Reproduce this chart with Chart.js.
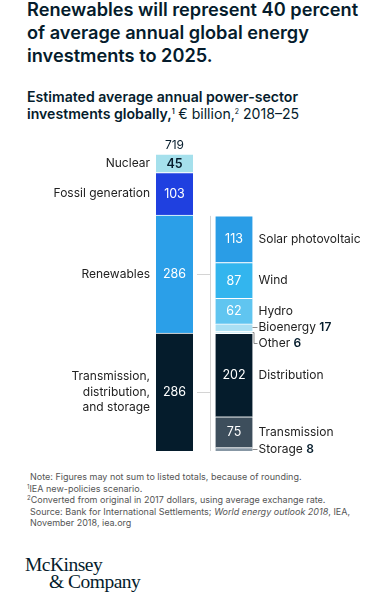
<!DOCTYPE html>
<html>
<head>
<meta charset="utf-8">
<script src="https://cdn.jsdelivr.net/npm/chart.js@4"></script>
<style>
body{margin:0;width:390px;height:594px;position:relative;background:#fff;font-family:Inter,"Liberation Sans",sans-serif;color:#051c2c;overflow:hidden}
#title{position:absolute;left:27px;top:-2px;font-size:18.2px;font-weight:600;line-height:23px}
#sub{position:absolute;left:27px;top:88px;font-size:14.1px;line-height:17px;font-weight:600}
#sub span{font-weight:400}
sup{font-size:7px;line-height:0;vertical-align:5px}
#wrap{position:absolute;left:0;top:130px;width:390px;height:340px}
#notes{position:absolute;left:27px;top:471px;font-size:9px;line-height:11.5px;color:#555}
#notes sup{font-size:6px;vertical-align:3px}
.ind{padding-left:3px}
#logo{position:absolute;left:25px;top:556px;font-family:"Liberation Serif",serif;font-size:19.5px;line-height:17px;color:#051c2c;letter-spacing:-0.5px}
</style>
</head>
<body>
<div id="title">Renewables will represent 40 percent<br>of average annual global energy<br>investments to 2025.</div>
<div id="sub">Estimated average annual power-sector<br>investments globally,<sup>1</sup> <span>€ billion,<sup>2</sup> 2018–25</span></div>
<div id="wrap"><canvas id="chart" width="390" height="340"></canvas></div>
<div id="notes">
<div class="ind">Note: Figures may not sum to listed totals, because of rounding.</div>
<div><sup>1</sup>IEA new-policies scenario.</div>
<div><sup>2</sup>Converted from original in 2017 dollars, using average exchange rate.</div>
<div class="ind">Source: Bank for International Settlements; <i>World energy outlook 2018</i>, IEA,</div>
<div class="ind">November 2018, iea.org</div>
</div>
<div id="logo">McKinsey<br><span style="padding-left:24px">&amp; Company</span></div>
<script>
// top-down order, as in the picture
const totalLabel = '719';
const sectorNames = ['Nuclear', 'Fossil generation', 'Renewables', 'Transmission,\ndistribution,\nand storage'];
const sectorValues = [45, 103, 286, 286];
const detailNames = ['Solar photovoltaic', 'Wind', 'Hydro', 'Bioenergy', 'Other', 'Distribution', 'Transmission', 'Storage'];
const detailValues = [113, 87, 62, 17, 6, 202, 75, 8];
const detailParent = [2, 2, 2, 2, 2, 3, 3, 3];

const sectorColors = ['#a5e0ec', '#1f40e0', '#2b9fe8', '#051c2c'];
const sectorTextColors = ['#051c2c', '#fff', '#fff', '#fff'];
const detailColors = ['#2a9de6', '#33b5ee', '#60c5f0', '#a9dff3', '#d2eff9', '#051c2c', '#3d4e5c', '#8797a4'];

const datasets = [];
for (let i = sectorNames.length - 1; i >= 0; i--) {
  datasets.push({label: sectorNames[i], data: [sectorValues[i], null], backgroundColor: sectorColors[i], side: 0, idx: i});
}
for (let i = detailNames.length - 1; i >= 0; i--) {
  datasets.push({label: detailNames[i], data: [null, detailValues[i]], backgroundColor: detailColors[i], side: 1, idx: i});
}

const FONT = 'Inter, "Liberation Sans", sans-serif';

const labelPlugin = {
  id: 'labels',
  afterDatasetsDraw(chart) {
    const ctx = chart.ctx;
    const left = [], right = [];
    chart.data.datasets.forEach((ds, di) => {
      const el = chart.getDatasetMeta(di).data[ds.side];
      const p = {x: el.x, top: el.y, bot: el.base, mid: (el.y + el.base) / 2, l: el.x - el.width / 2, r: el.x + el.width / 2};
      if (ds.side === 0) left[ds.idx] = p; else right[ds.idx] = p;
    });
    ctx.save();
    ctx.textBaseline = 'middle';

    // bracket between the two bars
    ctx.strokeStyle = '#d4d4d4';
    ctx.lineWidth = 1;
    const vx = Math.round(right[0].l - 6) + 0.5;
    ctx.beginPath();
    ctx.moveTo(vx, right[0].top);
    ctx.lineTo(vx, right[right.length - 1].bot);
    [...new Set(detailParent)].forEach(s => {
      const y = Math.round(left[s].mid) + 0.5;
      ctx.moveTo(left[s].r + 4, y);
      ctx.lineTo(vx, y);
    });
    ctx.stroke();

    // total
    ctx.fillStyle = '#051c2c';
    ctx.font = '400 12px ' + FONT;
    ctx.textAlign = 'center';
    ctx.fillText(totalLabel, left[0].x, left[0].top - 9);

    // left bar
    sectorNames.forEach((name, i) => {
      const p = left[i];
      ctx.textAlign = 'center';
      ctx.fillStyle = sectorTextColors[i];
      ctx.font = (i === 0 ? '600 ' : '400 ') + '12.5px ' + FONT;
      ctx.fillText(String(sectorValues[i]), p.x, p.mid + 0.5);
      ctx.textAlign = 'right';
      ctx.fillStyle = '#222';
      ctx.font = '400 12px ' + FONT;
      const lines = name.split('\n');
      lines.forEach((t, k) => ctx.fillText(t, p.l - 6, p.mid + (k - (lines.length - 1) / 2) * 15.5));
    });

    // right bar
    let lastY = -100;
    detailNames.forEach((name, i) => {
      const p = right[i];
      const v = detailValues[i];
      const small = v < 20;
      const y = Math.max(p.mid, lastY + 16);
      lastY = y;
      if (!small) {
        ctx.textAlign = 'center';
        ctx.fillStyle = '#fff';
        ctx.font = '400 12.5px ' + FONT;
        ctx.fillText(String(v), p.x, p.mid + 0.5);
      }
      ctx.textAlign = 'left';
      ctx.fillStyle = '#222';
      ctx.font = '400 12px ' + FONT;
      const tx = p.r + 6;
      ctx.fillText(name, tx, y);
      if (small) {
        const w = ctx.measureText(name + ' ').width;
        ctx.font = '600 12px ' + FONT;
        ctx.fillStyle = '#051c2c';
        ctx.fillText(String(v), tx + w, y);
        ctx.strokeStyle = '#8a8a8a';
        ctx.beginPath();
        const ly = Math.round(y) + 0.5;
        if (y > p.mid + 1) {
          ctx.moveTo(p.r, Math.round(p.mid) + 0.5);
          ctx.lineTo(p.r + 1.5, Math.round(p.mid) + 0.5);
          ctx.lineTo(p.r + 1.5, ly);
          ctx.lineTo(tx - 1, ly);
        } else {
          ctx.moveTo(p.r, ly);
          ctx.lineTo(tx - 1, ly);
        }
        ctx.stroke();
      }
    });
    ctx.restore();
  }
};

new Chart(document.getElementById('chart'), {
  type: 'bar',
  data: {labels: ['sectors', 'detail'], datasets: datasets},
  options: {
    responsive: false,
    devicePixelRatio: 1,
    animation: false,
    layout: {padding: {left: 144.75, right: 126.25, top: 24, bottom: 19}},
    datasets: {bar: {barThickness: 37, borderColor: '#fff', borderWidth: {top: 1, left: 0, right: 0, bottom: 0}, borderSkipped: false}},
    plugins: {legend: {display: false}, title: {display: false}, tooltip: {enabled: false}},
    scales: {
      x: {stacked: true, display: false},
      y: {stacked: true, display: false, min: 0, max: 720}
    }
  },
  plugins: [labelPlugin]
});
</script>
</body>
</html>
